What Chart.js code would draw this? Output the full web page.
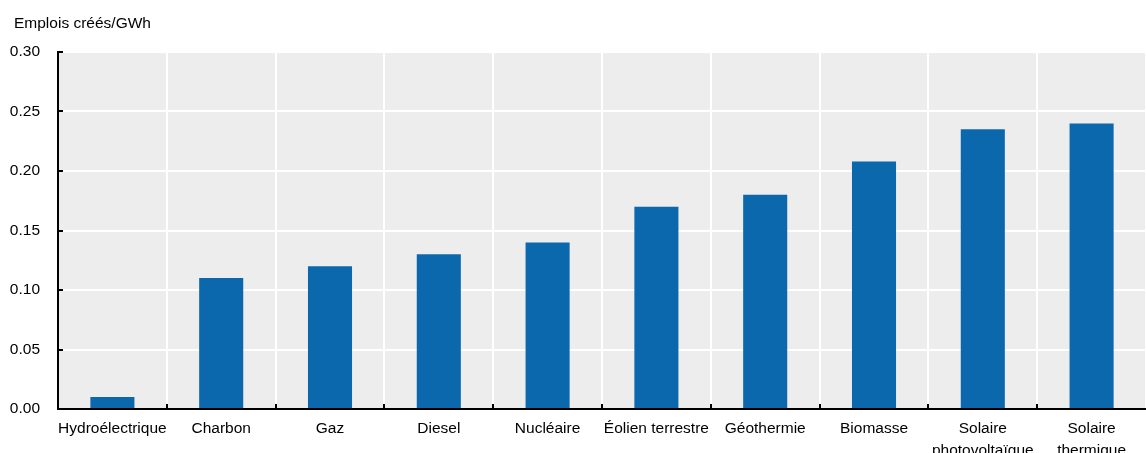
<!DOCTYPE html>
<html>
<head>
<meta charset="utf-8">
<script src="https://cdn.jsdelivr.net/npm/chart.js@4/dist/chart.umd.min.js"></script>
<style>
  html, body { margin: 0; padding: 0; background: #fff; overflow: hidden; }
  #wrap { width: 1146px; height: 453px; }
</style>
</head>
<body>
<div id="wrap"><canvas id="chart" width="1146" height="453"></canvas></div>
<script>
// =========================
// DATA
// =========================
const categories = [
  "Hydroélectrique",
  "Charbon",
  "Gaz",
  "Diesel",
  "Nucléaire",
  "Éolien terrestre",
  "Géothermie",
  "Biomasse",
  ["Solaire", "photovoltaïque"],
  ["Solaire", "thermique"],
];
const jobsPerGWh = [0.01, 0.11, 0.12, 0.13, 0.14, 0.17, 0.18, 0.208, 0.235, 0.24];
const yTicks = [0, 0.05, 0.1, 0.15, 0.2, 0.25, 0.3];
const yTitle = "Emplois créés/GWh";

const FONT = "'Liberation Sans', Arial, sans-serif";
const FONT_SIZE = 15.5;

// Titre de l'axe y, en haut à gauche
const axisTitle = {
  id: "axisTitle",
  afterDraw(chart) {
    const { ctx, chartArea } = chart;
    ctx.save();
    ctx.fillStyle = "#000";
    ctx.font = FONT_SIZE + "px " + FONT;
    ctx.textAlign = "left";
    ctx.textBaseline = "alphabetic";
    ctx.fillText(yTitle, 14, chartArea.top - 24);
    ctx.restore();
  },
};

// Petites graduations vers l'intérieur du graphique
const innerTicks = {
  id: "innerTicks",
  afterDraw(chart) {
    const { ctx, chartArea, scales } = chart;
    ctx.save();
    ctx.strokeStyle = "#000";
    ctx.lineWidth = 2;
    // y
    for (const v of yTicks) {
      const y = Math.round(scales.y.getPixelForValue(v));
      ctx.beginPath();
      ctx.moveTo(chartArea.left, y);
      ctx.lineTo(chartArea.left + 5, y);
      ctx.stroke();
    }
    // x : limites des catégories
    const step = (chartArea.right - chartArea.left) / categories.length;
    for (let i = 1; i < categories.length; i++) {
      const x = Math.round(scales.x.getPixelForValue(i) - step / 2);
      ctx.beginPath();
      ctx.moveTo(x, chartArea.bottom);
      ctx.lineTo(x, chartArea.bottom - 5);
      ctx.stroke();
    }
    ctx.restore();
  },
};

// Fond gris de la zone de tracé
const plotBg = {
  id: "plotBg",
  beforeDraw(chart) {
    const { ctx, chartArea } = chart;
    ctx.save();
    ctx.fillStyle = "#ededed";
    ctx.fillRect(chartArea.left, chartArea.top, chartArea.right - chartArea.left, chartArea.bottom - chartArea.top);
    ctx.restore();
  },
};

const ctx = document.getElementById("chart").getContext("2d");
const chart = new Chart(ctx, {
  type: "bar",
  data: {
    labels: categories,
    datasets: [
      {
        data: jobsPerGWh,
        backgroundColor: "#0c68ad",
        barPercentage: 0.405,
        categoryPercentage: 1,
      },
    ],
  },
  options: {
    responsive: false,
    animation: false,
    layout: { padding: { left: 0, right: 0, top: 52, bottom: 0 } },
    scales: {
      x: {
        grid: { color: "#fff", lineWidth: 2, drawTicks: false, offset: true },
        border: { display: true, color: "#000", width: 2 },
        ticks: {
          color: "#000",
          padding: 9,
          maxRotation: 0,
          autoSkip: false,
          font: { family: FONT, size: FONT_SIZE, lineHeight: 1.4 },
        },
        afterFit(scale) { scale.height = 44; },
      },
      y: {
        min: 0,
        max: 0.3,
        afterBuildTicks(scale) { scale.ticks = yTicks.map((v) => ({ value: v })); },
        grid: { color: "#fff", lineWidth: 2, drawTicks: false },
        border: { display: true, color: "#000", width: 2 },
        ticks: {
          color: "#000",
          padding: 18,
          font: { family: FONT, size: FONT_SIZE },
          callback: (v) => Number(v).toFixed(2),
        },
        afterFit(scale) { scale.width = 58; },
      },
    },
    plugins: {
      legend: { display: false },
      tooltip: { enabled: false },
      title: { display: false },
    },
  },
  plugins: [plotBg, innerTicks, axisTitle],
});
</script>
</body>
</html>
